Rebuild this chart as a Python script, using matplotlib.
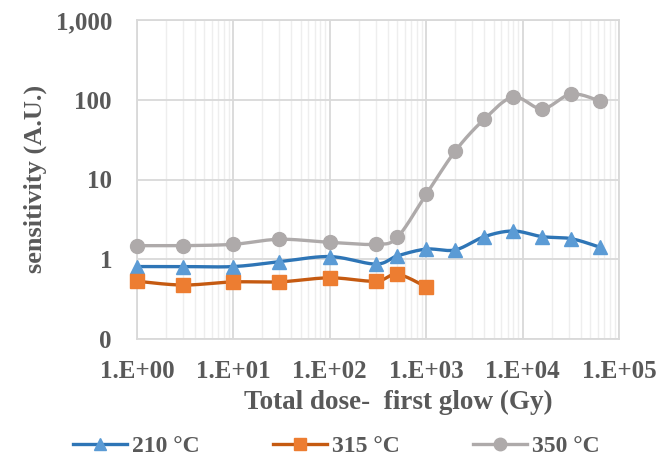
import matplotlib
matplotlib.use("Agg")
import matplotlib.pyplot as plt
import numpy as np

plt.rcParams['font.family'] = ['Liberation Serif', 'DejaVu Serif']
plt.rcParams['font.weight'] = 'bold'

# dose steps (Gy) and sensitivity per glow peak
dose = [1, 3, 10, 30, 100, 300, 500, 1000, 2000, 4000, 8000, 16000, 32000, 64000]
s210 = [0.81, 0.81, 0.81, 0.93, 1.08, 0.87, 1.10, 1.34, 1.31, 1.92, 2.26, 1.92, 1.81, 1.41]
s315 = [0.53, 0.475, 0.52, 0.52, 0.585, 0.53, 0.65, 0.45]
s350 = [1.48, 1.48, 1.54, 1.78, 1.63, 1.54, 1.88, 6.5, 22.7, 57, 108, 77, 118, 96]

yticks = [0.1, 1, 10, 100, 1000]
xticks = [1, 10, 100, 1000, 10000, 100000]

grey_txt = '#595959'


def smooth(x, y, n=30):
    # Catmull-Rom style bezier through the points, done in log-log space
    lx, ly = np.log10(x), np.log10(y)
    pts = np.column_stack([lx, ly])
    out = [pts[0]]
    for i in range(len(pts) - 1):
        p0 = pts[max(i - 1, 0)]
        p1 = pts[i]
        p2 = pts[i + 1]
        p3 = pts[min(i + 2, len(pts) - 1)]
        c1 = p1 + (p2 - p0) / 6
        c2 = p2 - (p3 - p1) / 6
        t = np.linspace(0, 1, n)[1:, None]
        seg = ((1 - t) ** 3 * p1 + 3 * (1 - t) ** 2 * t * c1
               + 3 * (1 - t) * t ** 2 * c2 + t ** 3 * p2)
        out.extend(seg)
    out = np.array(out)
    return 10 ** out[:, 0], 10 ** out[:, 1]


fig = plt.figure(figsize=(6.62, 4.63), dpi=100)
ax = fig.add_axes([137 / 662, 1 - 339 / 463, (619 - 137) / 662, (339 - 20) / 463])

series = [
    (s210, '210 °C', '#2E75B6', '#5B9BD5', '^', 10),
    (s315, '315 °C', '#C55A11', '#ED7D31', 's', 9.5),
    (s350, '350 °C', '#AEAAAA', '#AEAAAA', 'o', 10),
]
handles = []
for vals, lab, lc, mc, mk, ms in series:
    xs = dose[:len(vals)]
    sx, sy = smooth(xs, vals)
    ax.plot(sx, sy, color=lc, lw=2.4, zorder=3, clip_on=False)
    ax.plot(xs, vals, ls='none', marker=mk, ms=ms, color=mc, mec=mc, zorder=4, clip_on=False)
    h, = ax.plot([], [], color=lc, lw=2.4, marker=mk, ms=ms - 1, mfc=mc, mec=mc, label=lab)
    handles.append(h)

ax.set_xscale('log')
ax.set_yscale('log')
ax.set_xlim(1, 1e5)
ax.set_ylim(0.1, 1000)

ax.set_xticks(xticks)
ax.set_xticklabels(["%#.0E" % v for v in xticks])
ax.set_yticks(yticks)
ax.set_yticklabels([f"{v:,.0f}" for v in yticks])
ax.yaxis.set_minor_locator(matplotlib.ticker.NullLocator())
ax.xaxis.set_minor_locator(matplotlib.ticker.LogLocator(subs=np.arange(2, 10)))
ax.tick_params(axis='both', which='both', length=0, labelsize=18, labelcolor=grey_txt)
ax.tick_params(axis='x', pad=15)
ax.tick_params(axis='y', pad=18)

ax.grid(True, which='major', color='#D9D9D9', lw=1.3, zorder=0)
ax.grid(True, which='minor', axis='x', color='#EEEEEE', lw=1.0, zorder=0)
ax.set_axisbelow(True)
for sp in ax.spines.values():
    sp.set_color('#D9D9D9')
    sp.set_linewidth(1.3)

fig.text(398 / 662, 1 - 402 / 463, 'Total dose-  first glow (Gy)', ha='center', va='center',
         fontsize=19.5, color=grey_txt, fontweight='bold')
fig.text(35 / 662, 1 - 179 / 463, 'sensitivity (A.U.)', ha='center', va='center',
         rotation=90, fontsize=19, color=grey_txt, fontweight='bold')

leg = fig.legend(handles=handles, loc='center', bbox_to_anchor=(336 / 662, 1 - 446 / 463),
                 ncol=3, frameon=False, fontsize=17, handlelength=2.3, handletextpad=0.2,
                 columnspacing=3.1, numpoints=1, borderaxespad=0, borderpad=0)
for t in leg.get_texts():
    t.set_color(grey_txt)

fig.savefig('out.png', dpi=100)
